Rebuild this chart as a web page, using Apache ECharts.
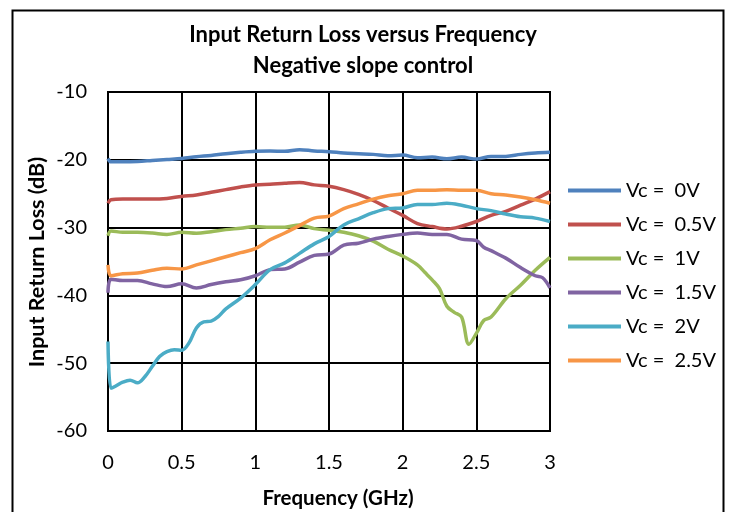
<!DOCTYPE html>
<html>
<head>
<meta charset="utf-8">
<script src="https://cdn.jsdelivr.net/npm/echarts@6/dist/echarts.min.js"></script>
<style>html,body{margin:0;padding:0;background:#fff;}#c{width:729px;height:512px;}</style>
</head>
<body>
<div id="c"></div>
<script>
// ---- data ----
const seriesNames = ['Vc =  0V', 'Vc =  0.5V', 'Vc =  1V', 'Vc =  1.5V', 'Vc =  2V', 'Vc =  2.5V'];
const freqBase = [0, 0.02, 0.1, 0.2, 0.3, 0.4, 0.5, 0.6, 0.7, 0.8, 0.9, 1.0, 1.1, 1.2, 1.3, 1.4, 1.5, 1.6, 1.7, 1.8, 1.9, 2.0, 2.1, 2.2, 2.3, 2.4, 2.5, 2.6, 2.7, 2.8, 2.9, 3.0];
const vc0 = [-19.8, -20.3, -20.3, -20.25, -20.1, -19.95, -19.8, -19.55, -19.35, -19.1, -18.9, -18.75, -18.7, -18.75, -18.5, -18.7, -18.8, -19.0, -19.1, -19.2, -19.4, -19.3, -19.7, -19.6, -19.85, -19.6, -19.9, -19.5, -19.5, -19.2, -19.0, -18.9];
const vc05 = [-26.4, -25.9, -25.8, -25.8, -25.8, -25.7, -25.4, -25.2, -24.8, -24.4, -24.0, -23.7, -23.6, -23.45, -23.35, -23.7, -23.9, -24.4, -25.1, -26.0, -27.1, -28.2, -29.4, -29.85, -30.2, -29.8, -29.1, -28.2, -27.6, -26.7, -25.8, -24.7];
const freqVc1 = [0, 0.02, 0.1, 0.2, 0.3, 0.4, 0.5, 0.6, 0.7, 0.8, 0.9, 1.0, 1.1, 1.2, 1.3, 1.4, 1.5, 1.6, 1.7, 1.8, 1.9, 2.0, 2.1, 2.15, 2.2, 2.25, 2.3, 2.35, 2.4, 2.45, 2.5, 2.55, 2.6, 2.7, 2.8, 2.9, 3.0];
const vc1 = [-31.2, -30.5, -30.7, -30.7, -30.8, -31.0, -30.7, -30.85, -30.6, -30.3, -30.1, -29.85, -29.95, -29.95, -29.6, -30.15, -30.4, -30.7, -31.2, -32.0, -33.2, -34.2, -35.5, -36.6, -37.7, -39.0, -41.6, -42.5, -43.2, -47.2, -45.6, -43.7, -43.2, -40.5, -38.5, -36.3, -34.4];
const freqVc15 = [0, 0.02, 0.1, 0.2, 0.3, 0.4, 0.5, 0.6, 0.7, 0.8, 0.9, 1.0, 1.1, 1.2, 1.3, 1.4, 1.5, 1.6, 1.7, 1.8, 1.9, 2.0, 2.1, 2.2, 2.3, 2.4, 2.5, 2.55, 2.6, 2.7, 2.8, 2.9, 2.95, 3.0];
const vc15 = [-39.6, -37.6, -37.8, -37.8, -38.3, -38.7, -38.3, -38.9, -38.4, -38.0, -37.7, -37.1, -36.2, -36.1, -35.1, -34.1, -33.9, -32.6, -32.3, -31.7, -31.3, -31.0, -30.8, -31.0, -31.0, -31.7, -31.9, -32.9, -33.4, -34.5, -35.9, -37.1, -37.4, -38.9];
const freqVc2 = [0, 0.02, 0.05, 0.1, 0.15, 0.2, 0.25, 0.3, 0.35, 0.4, 0.45, 0.5, 0.55, 0.6, 0.65, 0.7, 0.75, 0.8, 0.9, 1.0, 1.1, 1.2, 1.3, 1.4, 1.5, 1.6, 1.7, 1.8, 1.9, 2.0, 2.1, 2.2, 2.3, 2.4, 2.5, 2.6, 2.7, 2.8, 2.9, 3.0];
const vc2 = [-46.8, -53.7, -53.4, -52.8, -52.5, -52.9, -52.0, -50.5, -49.0, -48.3, -48.0, -48.1, -47.0, -44.8, -43.9, -43.8, -43.1, -42.0, -40.4, -38.4, -36.2, -35.2, -33.8, -32.4, -31.3, -29.6, -28.7, -27.8, -27.2, -27.1, -26.6, -26.6, -26.4, -26.7, -27.2, -27.5, -28.0, -28.4, -28.6, -29.1];
const vc25 = [-35.5, -37.1, -36.8, -36.7, -36.3, -36.0, -36.1, -35.5, -34.9, -34.3, -33.7, -33.1, -31.8, -30.8, -29.7, -28.6, -28.3, -27.2, -26.5, -25.8, -25.3, -25.0, -24.5, -24.5, -24.4, -24.5, -24.5, -25.0, -25.2, -25.5, -25.9, -26.4];
const colors = ['#4F81BD', '#C0504D', '#9BBB59', '#8064A2', '#4BACC6', '#F79646'];
const yTicks = [-60, -50, -40, -30, -20, -10];
const xTicks = [0, 0.5, 1, 1.5, 2, 2.5, 3];

const pairs = (xs, ys) => xs.map((x, i) => [x, ys[i]]);
const seriesData = [
  pairs(freqBase, vc0), pairs(freqBase, vc05), pairs(freqVc1, vc1),
  pairs(freqVc15, vc15), pairs(freqVc2, vc2), pairs(freqBase, vc25)
];

const FONT = 'Lato';
const chart = echarts.init(document.getElementById('c'), null, {renderer: 'canvas'});
chart.setOption({
  animation: false,
  backgroundColor: '#fff',
  title: {
    text: 'Input Return Loss versus Frequency\nNegative slope control',
    left: 358, top: 14, textAlign: 'center',
    textStyle: {fontFamily: FONT, fontWeight: 'bold', fontSize: 22, lineHeight: 31, color: '#000'}
  },
  grid: {left: 108, right: 179, top: 92, bottom: 81, show: true, borderColor: '#000', borderWidth: 2, containLabel: false},
  xAxis: {
    type: 'value', min: 0, max: 3, interval: 0.5,
    axisLine: {show: true, lineStyle: {color: '#000', width: 2}},
    axisTick: {show: false},
    splitLine: {show: true, lineStyle: {color: '#000', width: 2}},
    axisLabel: {fontFamily: FONT, fontSize: 20, color: '#000', margin: 22,
      formatter: v => xTicks.includes(v) ? String(v) : ''}
  },
  yAxis: {
    type: 'value', min: -60, max: -10, interval: 10,
    axisLine: {show: true, lineStyle: {color: '#000', width: 2}},
    axisTick: {show: false},
    splitLine: {show: true, lineStyle: {color: '#000', width: 2}},
    axisLabel: {fontFamily: FONT, fontSize: 20, color: '#000', margin: 21,
      formatter: v => yTicks.includes(v) ? String(v) : ''}
  },
  legend: {
    orient: 'vertical', left: 563, top: 175,
    icon: 'rect', itemWidth: 53, itemHeight: 4, itemGap: 13,
    textStyle: {fontFamily: FONT, fontSize: 20, color: '#000', lineHeight: 21},
    data: seriesNames
  },
  graphic: [
    {type: 'rect', left: 10, top: 8, shape: {width: 711, height: 520}, style: {fill: 'none', stroke: '#000', lineWidth: 2}, silent: true},
    {type: 'text', x: 338, y: 498, style: {text: 'Frequency (GHz)', font: 'bold 20.5px Lato', fill: '#000', textAlign: 'center', textVerticalAlign: 'middle'}},
    {type: 'text', x: 37, y: 262, rotation: Math.PI / 2, style: {text: 'Input Return Loss (dB)', font: 'bold 21.5px Lato', fill: '#000', textAlign: 'center', textVerticalAlign: 'middle'}}
  ],
  series: seriesData.map((d, i) => ({
    name: seriesNames[i], type: 'line', data: d, smooth: 0.35, symbol: 'none',
    lineStyle: {color: colors[i], width: 3.5}, itemStyle: {color: colors[i]}
  }))
});
</script>
</body>
</html>
